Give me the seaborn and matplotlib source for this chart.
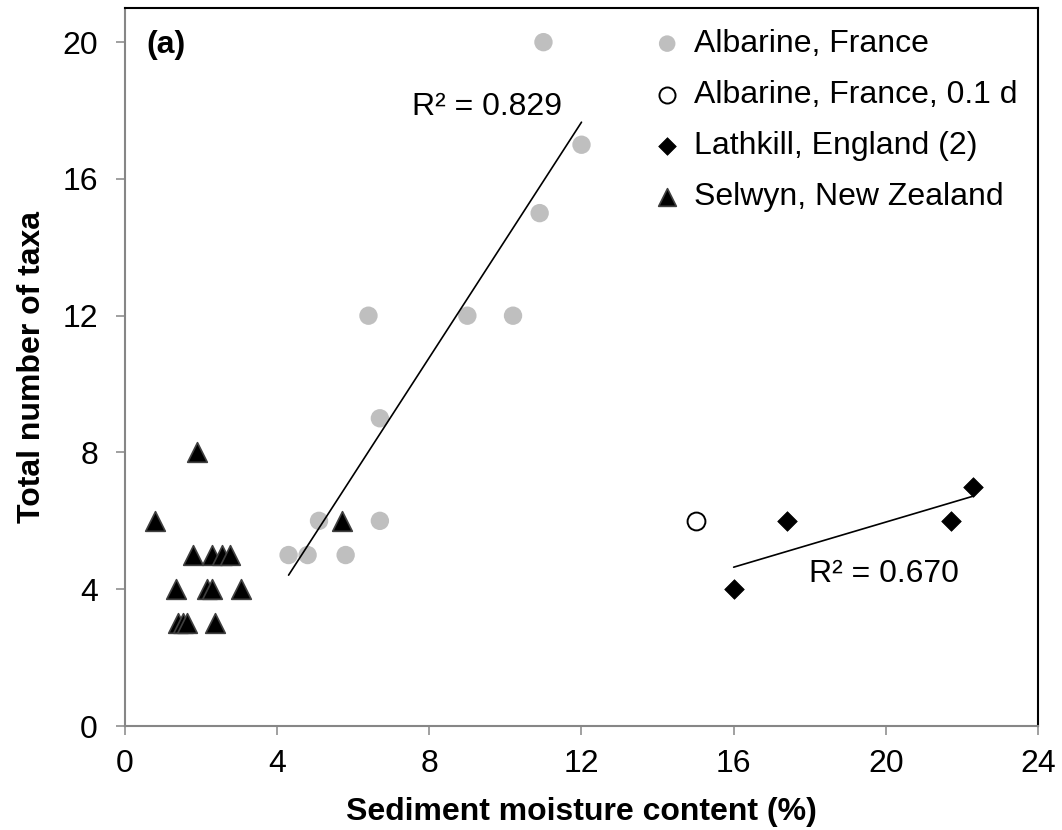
import numpy as np
import pandas as pd
import matplotlib
matplotlib.use("Agg")
import matplotlib.pyplot as plt
import seaborn as sns

# ---- data ----
alb_x = [11.0, 12.0, 10.9, 6.4, 9.0, 10.2, 6.7, 5.1, 6.7, 4.3, 4.8, 5.8]
alb_y = [20, 17, 15, 12, 12, 12, 9, 6, 6, 5, 5, 5]

alb01_x = [15.0]
alb01_y = [6]

lat_x = [16.0, 17.4, 21.7, 22.3]
lat_y = [4, 6, 6, 7]

sel_x = [1.9, 0.8, 5.7, 1.8, 2.3, 2.55, 2.75, 1.35, 2.15, 2.3, 3.05, 1.4, 1.52, 1.62, 2.37]
sel_y = [8, 6, 6, 5, 5, 5, 5, 4, 4, 4, 4, 3, 3, 3, 3]

labels = ["Albarine, France", "Albarine, France, 0.1 d",
          "Lathkill, England (2)", "Selwyn, New Zealand"]
r2_texts = ["R² = 0.829", "R² = 0.670"]
x_ticks = [0, 4, 8, 12, 16, 20, 24]
y_ticks = [0, 4, 8, 12, 16, 20]

sns.set_style("white")
plt.rcParams['font.family'] = ['Liberation Sans', 'DejaVu Sans']
plt.rcParams['text.color'] = 'black'
plt.rcParams['axes.labelcolor'] = 'black'

FS = 23

fig = plt.figure(figsize=(10.62, 8.30), dpi=100)
ax = fig.add_axes([0.1177, 0.1253, 0.8597, 0.8651])

sns.scatterplot(x=alb_x, y=alb_y, ax=ax, marker='o', s=175, color='#BFBFBF',
                edgecolor='none', linewidth=0, label=labels[0], zorder=2)
sns.scatterplot(x=alb01_x, y=alb01_y, ax=ax, marker='o', s=165, color='white',
                edgecolor='black', linewidth=1.4, label=labels[1], zorder=2)
sns.scatterplot(x=lat_x, y=lat_y, ax=ax, marker='D', s=100, color='black',
                edgecolor='black', linewidth=0.5, label=labels[2], zorder=2)
sns.scatterplot(x=sel_x, y=sel_y, ax=ax, marker='^', s=200, color='black',
                edgecolor='#404040', linewidth=1.2, label=labels[3], zorder=2)

sns.regplot(x=alb_x, y=alb_y, ax=ax, scatter=False, ci=None, truncate=True,
            color='black', line_kws=dict(linewidth=1.2, zorder=3))
sns.regplot(x=lat_x, y=lat_y, ax=ax, scatter=False, ci=None, truncate=True,
            color='black', line_kws=dict(linewidth=1.2, zorder=3))

ax.text(7.55, 18.1, r2_texts[0], fontsize=FS, va='center', ha='left', color='black')
ax.text(17.99, 4.45, r2_texts[1], fontsize=FS, va='center', ha='left', color='black')
ax.text(0.023, 0.948, "(a)", transform=ax.transAxes, fontsize=FS,
        fontweight='bold', va='center', ha='left', color='black')

ax.set_xlim(0, 24)
ax.set_ylim(0, 21)
ax.set_xticks(x_ticks)
ax.set_yticks(y_ticks)
ax.tick_params(axis='both', direction='out', length=6.5, width=1.1,
               color='#868686', labelsize=FS, labelcolor='black')
ax.tick_params(axis='x', pad=10)
ax.tick_params(axis='y', pad=13)
ax.tick_params(bottom=True, left=True)

for side in ['left', 'bottom']:
    ax.spines[side].set_color('#868686')
    ax.spines[side].set_linewidth(1.5)
for side in ['top', 'right']:
    ax.spines[side].set_color('black')
    ax.spines[side].set_linewidth(1.5)

ax.set_xlabel("Sediment moisture content (%)", fontsize=FS, fontweight='bold',
              labelpad=13, color='black')
ax.set_ylabel("Total number of taxa", fontsize=FS, fontweight='bold',
              labelpad=11, color='black')

leg = ax.legend(loc='upper left', bbox_to_anchor=(652 / 1062, 1 - 29 / 830),
                bbox_transform=fig.transFigure, frameon=False, fontsize=FS,
                labelspacing=0.66, handletextpad=0.38, handlelength=0.95,
                borderaxespad=0, borderpad=0, markerscale=0.9)
for t in leg.get_texts():
    t.set_color('black')

fig.savefig("out.png", dpi=100)
